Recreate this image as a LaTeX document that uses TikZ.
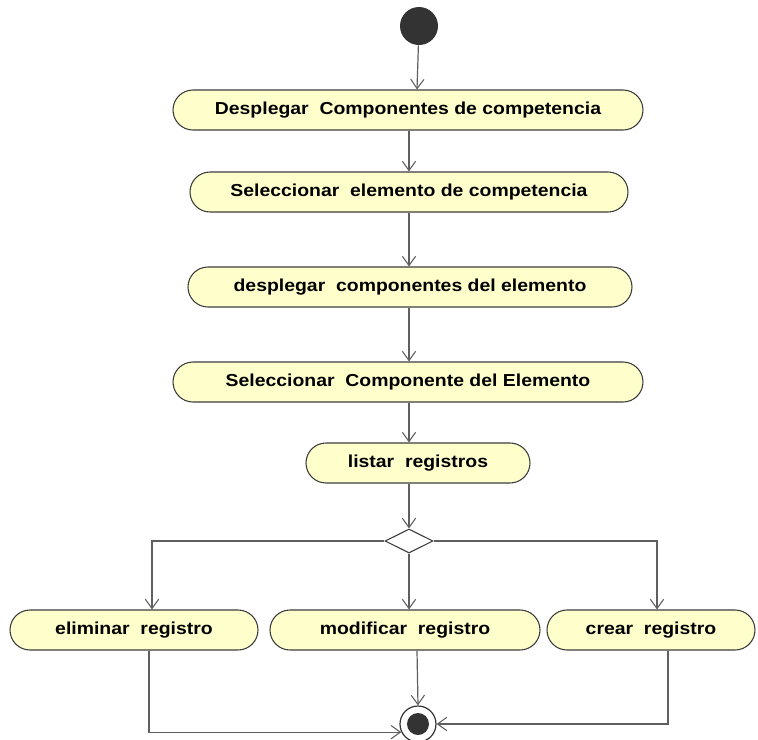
\documentclass[tikz,border=0pt]{standalone}
\usepackage{fontspec}
\setmainfont{Liberation Sans}
\newfontfamily\actfont[FakeStretch=1.12]{Liberation Sans}
\usetikzlibrary{arrows.meta,shapes.geometric}
\definecolor{actfill}{RGB}{255,255,204}
\definecolor{actline}{RGB}{60,60,60}
\definecolor{flowline}{RGB}{95,95,95}
\tikzset{
  activity/.style={draw=actline, line width=0.8pt, fill=actfill, rectangle,
    rounded corners=15pt, minimum height=30pt, inner sep=0pt,
    font=\actfont\fontsize{13}{15}\selectfont\bfseries},
  flow/.style={draw=flowline, line width=0.9pt,
    -{Straight Barb[length=7pt,width=10pt,line width=0.8pt]}},
  plainflow/.style={draw=flowline, line width=0.9pt}
}
\begin{document}
\begin{tikzpicture}[x=0.75pt,y=-0.75pt]
  \useasboundingbox (0,0) rectangle (758,740);
  % start and end states
  \node[circle, fill=black!80, minimum size=28.5pt, inner sep=0pt] (start) at (419,26) {};
  \node[circle, draw=black!80, line width=0.9pt, fill=white, minimum size=27pt, inner sep=0pt] (fin) at (418,724) {};
  \fill[black!80] (fin) circle [radius=8.25pt];
  % activities
  \node[activity, minimum width=352.5pt] (n1) at (408,110) {Desplegar\ \ Componentes de competencia};
  \node[activity, minimum width=328.5pt] (n2) at (409,192) {Seleccionar\ \ elemento de competencia};
  \node[activity, minimum width=333pt] (n3) at (410,287) {desplegar\ \ componentes del elemento};
  \node[activity, minimum width=352.5pt] (n4) at (408,382) {Seleccionar\ \ Componente del Elemento};
  \node[activity, minimum width=168pt] (n5) at (418,463) {listar\ \ registros};
  \node[diamond, draw=actline, line width=0.8pt, fill=white, minimum width=36pt, minimum height=18pt, inner sep=0pt] (d) at (409,541) {};
  \node[activity, minimum width=186pt] (el) at (134,630) {eliminar\ \ registro};
  \node[activity, minimum width=202.5pt] (mo) at (405,630) {modificar\ \ registro};
  \node[activity, minimum width=156pt] (cr) at (651,630) {crear\ \ registro};
  % routing points
  \coordinate (xs) at (417,0);
  \coordinate (cl) at (152,541);
  \coordinate (crr) at (657,541);
  \coordinate (xm) at (417,0);
  \coordinate (xl) at (149,0);
  \coordinate (xr) at (668,0);
  % flows
  \draw[flow] (start) -- (xs |- n1.north);
  \draw[flow] (n1.south -| d) -- (n2.north -| d);
  \draw[flow] (n2.south -| d) -- (n3.north -| d);
  \draw[flow] (n3.south -| d) -- (n4.north -| d);
  \draw[flow] (n4.south -| d) -- (n5.north -| d);
  \draw[flow] (n5.south -| d) -- (d.north);
  \draw[flow] (d.west) -- (cl) -- (cl |- el.north);
  \draw[flow] (d.east) -- (crr) -- (crr |- cr.north);
  \draw[flow] (d.south) -- (d.south |- mo.north);
  \draw[flow] (xm |- mo.south) -- (fin.north);
  \draw[flow] (xl |- el.south) -- (xl |- fin.206) -- (fin.206);
  \draw[flow] (xr |- cr.south) -- (xr |- fin.east) -- (fin.east);
\end{tikzpicture}
\end{document}
